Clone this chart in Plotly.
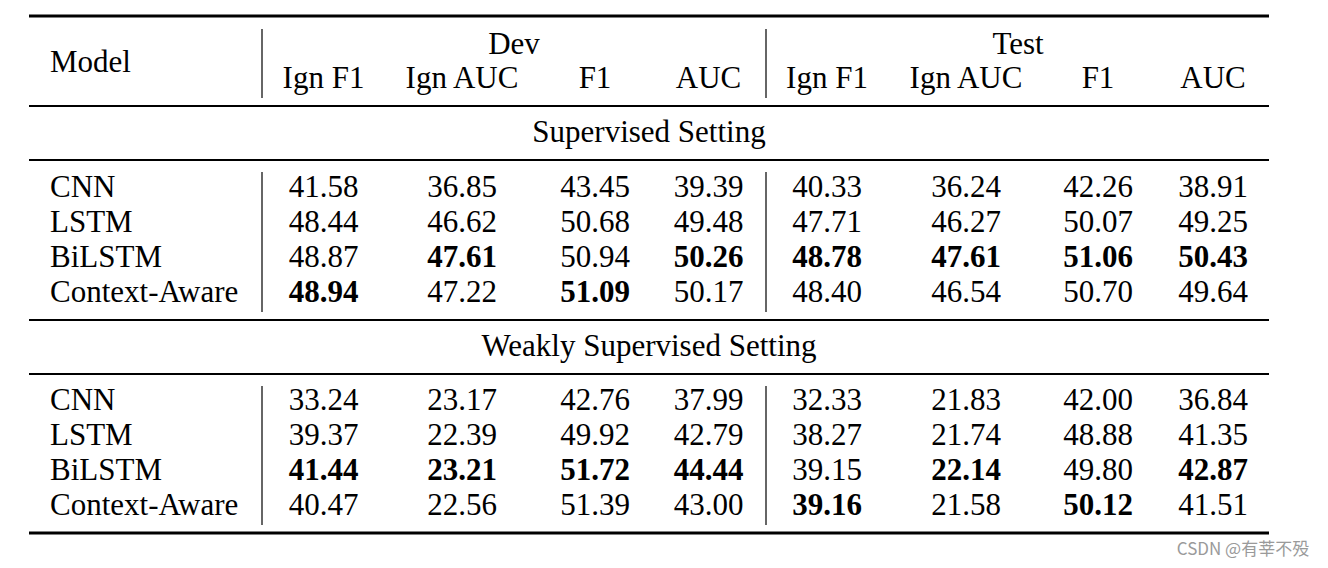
import plotly.graph_objects as go

# ---------------- data ----------------
models = ["CNN", "LSTM", "BiLSTM", "Context-Aware"]
metrics = ["Ign F1", "Ign AUC", "F1", "AUC"]
splits = ["Dev", "Test"]
settings = ["Supervised Setting", "Weakly Supervised Setting"]

sup_dev_ign_f1 = [41.58, 48.44, 48.87, 48.94]
sup_dev_ign_auc = [36.85, 46.62, 47.61, 47.22]
sup_dev_f1 = [43.45, 50.68, 50.94, 51.09]
sup_dev_auc = [39.39, 49.48, 50.26, 50.17]
sup_test_ign_f1 = [40.33, 47.71, 48.78, 48.40]
sup_test_ign_auc = [36.24, 46.27, 47.61, 46.54]
sup_test_f1 = [42.26, 50.07, 51.06, 50.70]
sup_test_auc = [38.91, 49.25, 50.43, 49.64]

weak_dev_ign_f1 = [33.24, 39.37, 41.44, 40.47]
weak_dev_ign_auc = [23.17, 22.39, 23.21, 22.56]
weak_dev_f1 = [42.76, 49.92, 51.72, 51.39]
weak_dev_auc = [37.99, 42.79, 44.44, 43.00]
weak_test_ign_f1 = [32.33, 38.27, 39.15, 39.16]
weak_test_ign_auc = [21.83, 21.74, 22.14, 21.58]
weak_test_f1 = [42.00, 48.88, 49.80, 50.12]
weak_test_auc = [36.84, 41.35, 42.87, 41.51]

watermark = "CSDN @有莘不殁"

blocks = [
    [sup_dev_ign_f1, sup_dev_ign_auc, sup_dev_f1, sup_dev_auc,
     sup_test_ign_f1, sup_test_ign_auc, sup_test_f1, sup_test_auc],
    [weak_dev_ign_f1, weak_dev_ign_auc, weak_dev_f1, weak_dev_auc,
     weak_test_ign_f1, weak_test_ign_auc, weak_test_f1, weak_test_auc],
]

# ---------------- layout geometry (pixels) ----------------
W, H = 1328, 568
FONT = "Liberation Serif, Times New Roman, serif"
FS = 31
col_x = [323.5, 462, 595, 708.5, 827, 966, 1098, 1213]
split_x = [514, 1018]
label_x = 50
x_left, x_right = 29, 1269
vline_x = [262, 766]
header_top_y, header_sub_y, model_y = 46, 80, 64
block_title_y = [134, 348]
block_first_row = [189, 402]
row_step = 35
rules = [(16, 3), (106, 2), (160, 2), (320, 2), (374, 2), (533, 3)]
vlines_y = [(29, 98), (172, 312), (386, 525)]

fig = go.Figure()

def add_text(xs, ys, texts, pos="middle center", size=FS, color="black", family=FONT):
    fig.add_trace(go.Scatter(
        x=xs, y=ys, text=texts, mode="text", textposition=pos,
        textfont=dict(family=family, size=size, color=color),
        hoverinfo="skip", showlegend=False))

# header
add_text([label_x], [model_y], ["Model"], pos="middle right")
add_text(split_x, [header_top_y] * 2, splits)
add_text(col_x, [header_sub_y] * 8, metrics * 2)

# blocks
for b, cols in enumerate(blocks):
    add_text([(x_left + x_right) / 2], [block_title_y[b]], [settings[b]])
    ys = [block_first_row[b] + i * row_step for i in range(len(models))]
    add_text([label_x] * len(models), ys, models, pos="middle right")
    for c, vals in enumerate(cols):
        best = max(vals)
        texts = [f"<b>{v:.2f}</b>" if v == best else f"{v:.2f}" for v in vals]
        add_text([col_x[c]] * len(vals), ys, texts)

# watermark
add_text([1243], [551], [watermark], size=17, color="#9a9a9a",
         family="Noto Sans CJK SC, Noto Sans, sans-serif")

shapes = []
for y, w in rules:
    shapes.append(dict(type="line", xref="x", yref="y", x0=x_left, x1=x_right,
                       y0=y, y1=y, line=dict(color="black", width=w)))
for y0, y1 in vlines_y:
    for vx in vline_x:
        shapes.append(dict(type="line", xref="x", yref="y", x0=vx, x1=vx,
                           y0=y0, y1=y1, line=dict(color="#333333", width=1.5)))

fig.update_layout(
    width=W, height=H,
    margin=dict(l=0, r=0, t=0, b=0),
    paper_bgcolor="white", plot_bgcolor="white",
    xaxis=dict(range=[0, W], visible=False, fixedrange=True),
    yaxis=dict(range=[H, 0], visible=False, fixedrange=True),
    shapes=shapes,
)

fig.write_html(
    "out.html",
    config={"displayModeBar": False},
    post_script="document.body.style.margin='0';document.body.style.overflow='hidden';",
)
